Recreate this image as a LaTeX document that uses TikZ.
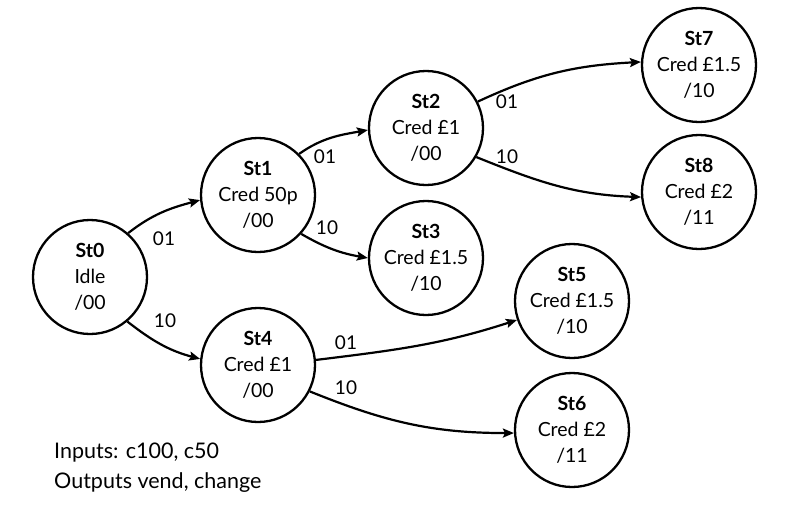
\documentclass[tikz,border=0pt]{standalone}
\usepackage{fontspec}
\setmainfont{Lato}
\usetikzlibrary{arrows.meta}
\tikzstyle{st} = [circle, draw=black, line width=2.3pt,
minimum size=114pt, inner sep=0pt,
align=center, font=\fontsize{19.5}{26}\selectfont]
\tikzstyle{arr} = [-{Stealth[length=11pt,width=9pt,inset=2pt]}, line width=2.2pt]
\tikzstyle{lbl} = [font=\fontsize{19}{22}\selectfont, inner sep=0pt]
\begin{document}
\begin{tikzpicture}[x=1pt, y=1pt]
\useasboundingbox (0,0) rectangle (805,-515);

\node (st0) [st] at (90,-277) {\textbf{St0}\\Idle\\/00};
\node (st1) [st] at (258,-195) {\textbf{St1}\\Cred 50p\\/00};
\node (st2) [st] at (426,-128) {\textbf{St2}\\Cred £1\\/00};
\node (st3) [st] at (426,-258) {\textbf{St3}\\Cred £1.5\\/10};
\node (st4) [st] at (258,-365) {\textbf{St4}\\Cred £1\\/00};
\node (st5) [st] at (572,-301) {\textbf{St5}\\Cred £1.5\\/10};
\node (st6) [st] at (572,-430) {\textbf{St6}\\Cred £2\\/11};
\node (st7) [st] at (699,-65) {\textbf{St7}\\Cred £1.5\\/10};
\node (st8) [st] at (699,-192) {\textbf{St8}\\Cred £2\\/11};

% transitions
\draw[arr] (st0.49) to[out=38, in=195] (st1.185);
\draw[arr] (st0.-50) to[out=-38, in=165] (st4.174);
\draw[arr] (st1.45) to[out=35, in=190] (st2.182);
\draw[arr] (st1.-42) to[out=-30, in=170] (st3.180);
\draw[arr] (st2.27) to[out=25, in=183] (st7.177);
\draw[arr] (st2.-30) to[out=-22, in=178] (st8.185);
\draw[arr] (st4.5) to[out=7, in=198] (st5.199);
\draw[arr] (st4.-27) to[out=-22, in=180] (st6.183);

% inputs on the transitions
\node (a01) [lbl] at (164,-239) {01};
\node (a10) [lbl] at (165,-321) {10};
\node (b01) [lbl] at (325,-157) {01};
\node (b10) [lbl] at (327,-228) {10};
\node (c01) [lbl] at (507,-102) {01};
\node (c10) [lbl] at (507,-157) {10};
\node (d01) [lbl] at (346,-343) {01};
\node (d10) [lbl] at (346,-388) {10};

\node (io) [anchor=base west, align=left, inner sep=0pt,
font=\fontsize{21.5}{30}\selectfont] at (54,-488) {Inputs: c100, c50\\Outputs vend, change};

\end{tikzpicture}
\end{document}
